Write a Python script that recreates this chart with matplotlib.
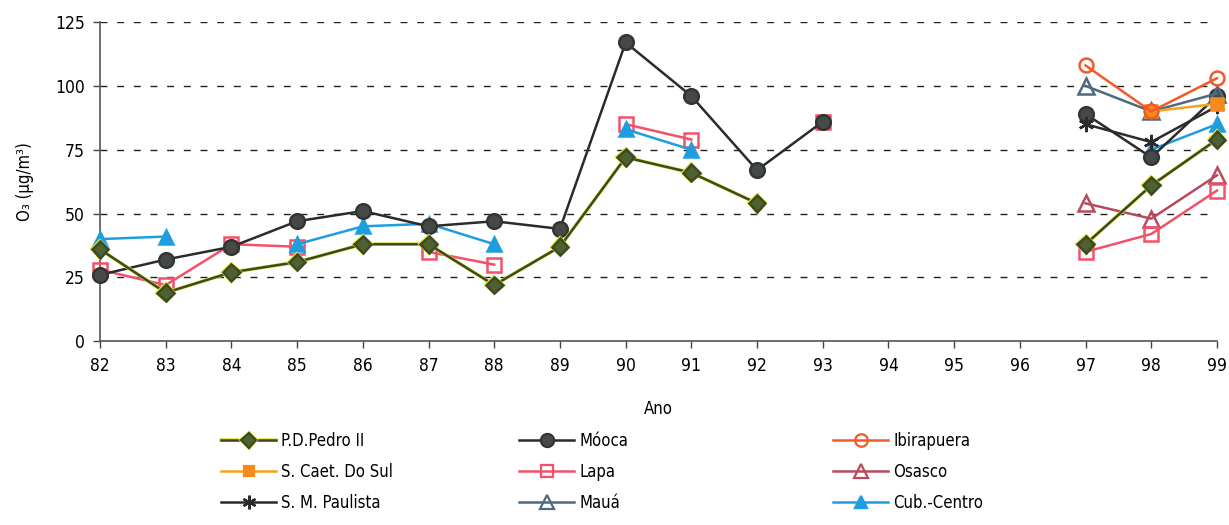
import numpy as np
import matplotlib
matplotlib.use("Agg")
import matplotlib.pyplot as plt
import matplotlib.patheffects as pe
from matplotlib.lines import Line2D

plt.rcParams["font.family"] = ["DejaVu Sans"]
plt.rcParams["font.stretch"] = "condensed"

nan = np.nan
years = list(range(82, 100))
year_labels = [str(y) for y in years]

# valores de O3 (µg/m3), 82..99
pd_pedro = [36, 19, 27, 31, 38, 38, 22, 37, 72, 66, 54, nan, nan, nan, nan, 38, 61, 79]
mooca = [26, 32, 37, 47, 51, 45, 47, 44, 117, 96, 67, 86, nan, nan, nan, 89, 72, 96]
ibirapuera = [nan] * 15 + [108, 90, 103]
s_caetano = [nan] * 16 + [90, 93]
lapa = [28, 22, 38, 37, nan, 35, 30, nan, 85, 79, nan, 86, nan, nan, nan, 35, 42, 59]
osasco = [nan] * 15 + [54, 48, 65]
sm_paulista = [nan] * 15 + [85, 78, 92]
maua = [nan] * 15 + [100, 90, 97]
cub_centro = [40, 41, nan, 38, 45, 46, 38, nan, 83, 75, nan, nan, nan, nan, nan, nan, 75, 85]

fig = plt.figure(figsize=(12.29, 5.25), dpi=100)
ax = fig.add_axes([0.0814, 0.35, 0.9088, 0.608])

yellow_edge = [pe.Stroke(linewidth=2.6, foreground="#e6e23a"), pe.Normal()]

series = [
    # label, values, line color, marker, size, face, edge, effects
    ("P.D.Pedro II", pd_pedro, "#3b4a22", "D", 8.5, "#4f6130", "#3b4a22", yellow_edge),
    ("S. Caet. Do Sul", s_caetano, "#f7a21b", "s", 8, "#f7891d", "#f7891d", None),
    ("S. M. Paulista", sm_paulista, "#2b2b2b", (6, 2, 0), 11, "#2b2b2b", "#2b2b2b", None),
    ("Móoca", mooca, "#2b2b2b", "o", 10.5, "#464a46", "#333533", None),
    ("Lapa", lapa, "#f2516a", "s", 10, "none", "#f2516a", None),
    ("Mauá", maua, "#4d6a80", "^", 11, "none", "#4d6a80", None),
    ("Ibirapuera", ibirapuera, "#f25a2a", "o", 10, "none", "#f25a2a", None),
    ("Osasco", osasco, "#b84a5e", "^", 11, "none", "#b84a5e", None),
    ("Cub.-Centro", cub_centro, "#1e9ee0", "^", 10, "#1e9ee0", "#1e9ee0", None),
]

draw_order = ["Osasco", "Lapa", "Cub.-Centro", "Móoca", "P.D.Pedro II", "S. M. Paulista",
              "Mauá", "S. Caet. Do Sul", "Ibirapuera"]
handles = {}
for label, vals, lc, mk, ms, mfc, mec, eff in series:
    z = 3 + draw_order.index(label)
    line, = ax.plot(years, vals, color=lc, linewidth=1.8, marker=mk, markersize=ms,
                    markerfacecolor=mfc, markeredgecolor=mec, markeredgewidth=1.8,
                    clip_on=False, zorder=z, label=label)
    if eff:
        line.set_path_effects(eff)
    handles[label] = line

ax.set_xlim(82, 99)
ax.set_ylim(0, 125)
ax.set_xticks(years)
ax.set_xticklabels(year_labels)
ax.set_yticks([0, 25, 50, 75, 100, 125])
ax.tick_params(axis="both", labelsize=12.5, length=5, width=1, color="#444444", pad=6)
for y in [25, 50, 75, 100, 125]:
    ax.axhline(y, color="#222222", linewidth=1, linestyle=(0, (5, 7)), zorder=1)
ax.spines["top"].set_visible(False)
ax.spines["right"].set_visible(False)
for s in ["left", "bottom"]:
    ax.spines[s].set_color("#555555")
    ax.spines[s].set_linewidth(1.2)

ax.set_xlabel("Ano", fontsize=12, labelpad=18)
ax.set_ylabel("O₃ (µg/m³)", fontsize=12, labelpad=15)

columns = [
    (["P.D.Pedro II", "S. Caet. Do Sul", "S. M. Paulista"], 0.180),
    (["Móoca", "Lapa", "Mauá"], 0.4225),
    (["Ibirapuera", "Osasco", "Cub.-Centro"], 0.678),
]
for labels, x0 in columns:
    hs = []
    for lb in labels:
        h = handles[lb]
        hl = Line2D([], [], color=h.get_color(), linewidth=1.8, marker=h.get_marker(),
                    markersize=h.get_markersize() * 0.9, markerfacecolor=h.get_markerfacecolor(),
                    markeredgecolor=h.get_markeredgecolor(), markeredgewidth=1.6)
        if lb == "P.D.Pedro II":
            hl.set_path_effects(yellow_edge)
        hs.append(hl)
    fig.legend(hs, labels, loc="upper left", bbox_to_anchor=(x0, 0.177), frameon=False,
               fontsize=12, handlelength=3.3, handletextpad=0.3, labelspacing=0.77,
               borderpad=0, borderaxespad=0)

fig.savefig("out.png", dpi=100)
